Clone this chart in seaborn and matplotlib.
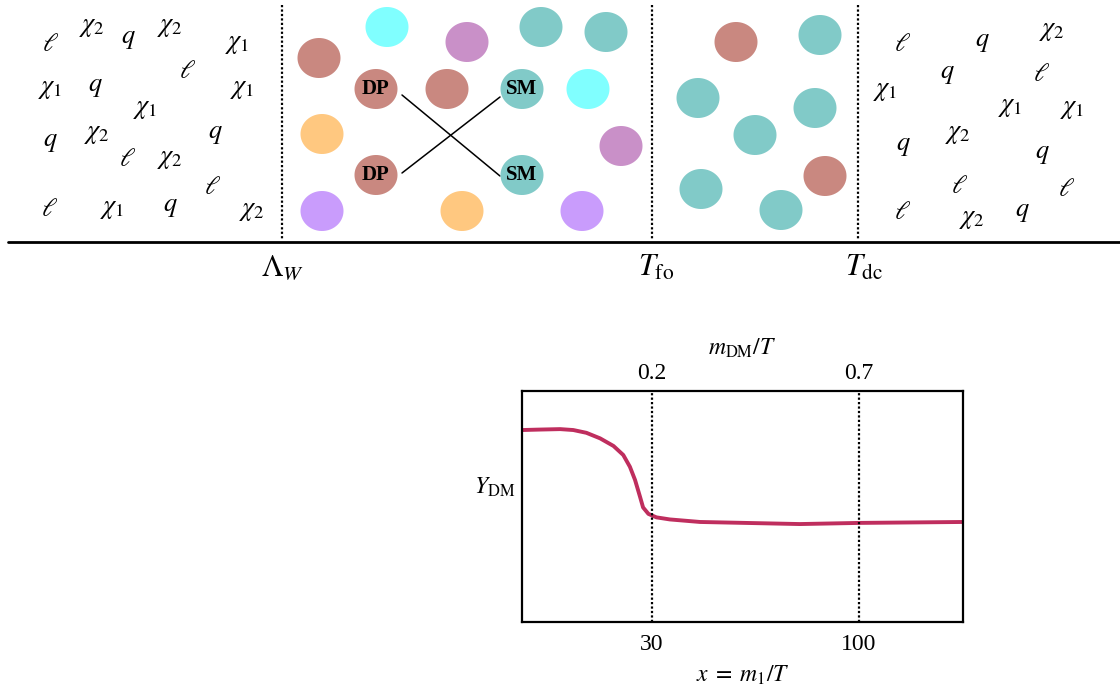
#!/usr/bin/env python3
# -*- coding: utf-8 -*-
"""Freeze-out schematic: particle bath cartoon on top, Y_DM curve below."""

import numpy as np
import pandas as pd
import matplotlib.pyplot as plt
import seaborn as sns

sns.set_theme(style='white')
plt.rcParams['font.family'] = ['Liberation Serif', 'DejaVu Serif']
plt.rcParams['mathtext.fontset'] = 'stix'
plt.rcParams['text.color'] = 'black'
plt.rcParams['axes.labelcolor'] = 'black'
plt.rcParams['xtick.color'] = 'black'

# ---- top cartoon (pixel coordinates of the picture) ----
particle_x = [319, 387, 467, 541, 606, 376, 447, 522, 588, 322, 621, 376, 522, 322, 462, 582,
              736, 820, 698, 815, 755, 701, 825, 781]
particle_y = [58, 27, 42, 27, 32, 89, 89, 89, 89, 134, 146, 175, 175, 211, 211, 211,
              42, 35, 98, 108, 135, 189, 176, 210]
particle_kind = ['dp', 'cyan', 'mauve', 'sm', 'sm', 'dp', 'dp', 'sm', 'cyan', 'orange', 'mauve',
                 'dp', 'sm', 'violet', 'orange', 'violet',
                 'dp', 'sm', 'sm', 'sm', 'sm', 'sm', 'dp', 'sm']
kind_colors = {'dp': '#C98880', 'sm': '#81CAC8', 'cyan': '#80FFFF',
               'mauve': '#C990C8', 'orange': '#FFC880', 'violet': '#C99CFC'}

# labelled particles taking part in the annihilation
label_x = [376, 376, 522, 522]
label_y = [89, 175, 89, 175]
label_text = ['DP', 'DP', 'SM', 'SM']

# the crossing lines DP <-> SM
cross_x = [[402, 500], [402, 500]]
cross_y = [[95, 176], [173, 97]]

# symbols in the thermal bath, left and right
sym_left_x = [51, 92, 128, 170, 237, 188, 50, 95, 242, 145, 50, 97, 215, 128, 170, 213, 50, 112, 170, 252]
sym_left_y = [45, 28, 40, 28, 45, 72, 90, 88, 90, 110, 143, 135, 135, 160, 160, 188, 210, 210, 208, 212]
sym_left = ['l', 'c2', 'q', 'c2', 'c1', 'l', 'c1', 'q', 'c1', 'c1', 'q', 'c2', 'q', 'l', 'c2', 'l',
            'l', 'c1', 'q', 'c2']
sym_right_x = [903, 982, 1052, 947, 1042, 885, 1010, 1072, 958, 903, 1042, 960, 1067, 903, 972, 1022]
sym_right_y = [45, 43, 32, 75, 75, 92, 108, 110, 135, 147, 155, 187, 190, 213, 220, 213]
sym_right = ['l', 'q', 'c2', 'q', 'l', 'c1', 'c1', 'c1', 'c2', 'q', 'q', 'l', 'l', 'l', 'c2', 'q']
sym_tex = {'l': r'$\ell$', 'q': r'$q$', 'c1': r'$\chi_1$', 'c2': r'$\chi_2$'}

# time line boundaries
boundary_x = [282, 652, 858]
boundary_label = [r'$\Lambda_W$', r'$T_{\rm fo}$', r'$T_{\rm dc}$']
boundary_label_x = [261, 638, 845]

# ---- lower plot: Y_DM vs x ----
curve_x = [14.1, 15.6, 17.6, 19.0, 20.5, 22.2, 24.0, 25.4, 26.4, 27.2, 28.0, 28.5, 29.4,
           30.8, 33.3, 39.7, 70.9, 100.6, 183]
curve_y = [0.831, 0.833, 0.835, 0.831, 0.819, 0.795, 0.762, 0.723, 0.672, 0.615, 0.542,
           0.496, 0.468, 0.453, 0.444, 0.433, 0.424, 0.429, 0.433]
bottom_ticks = [30, 100]
bottom_ticklabels = ['30', '100']
top_ticklabels = ['0.2', '0.7']

W, H = 1120, 686
fig = plt.figure(figsize=(W / 100, H / 100), dpi=100)

# background axes in pixel units
bg = fig.add_axes([0, 0, 1, 1])
bg.set_axis_off()

theta = np.linspace(0, 2 * np.pi, 60)
ellipse = np.column_stack([1.075 * np.cos(theta), np.sin(theta)])
df = pd.DataFrame({'x': particle_x, 'y': particle_y, 'kind': particle_kind})
sns.scatterplot(data=df, x='x', y='y', hue='kind', palette=kind_colors, marker=ellipse,
                s=960, linewidth=0, legend=False, ax=bg, zorder=2)

for xs, ys in zip(cross_x, cross_y):
    bg.plot(xs, ys, color='black', lw=1.1, zorder=1)
for x, y, t in zip(label_x, label_y, label_text):
    bg.text(x, y, t, ha='center', va='center', fontsize=15, fontweight='bold', zorder=3)

for xs, ys, syms in [(sym_left_x, sym_left_y, sym_left), (sym_right_x, sym_right_y, sym_right)]:
    for x, y, s in zip(xs, ys, syms):
        bg.text(x, y, sym_tex[s], ha='center', va='center', fontsize=19)

bg.plot([8, W], [242, 242], color='black', lw=2)
for x in boundary_x:
    bg.plot([x, x], [5, 240], color='black', lw=1.6, linestyle=(0, (1, 1)))
for x, t in zip(boundary_label_x, boundary_label):
    bg.text(x, 268, t, ha='left', va='center', fontsize=22)

bg.set_xlim(0, W)
bg.set_ylim(H, 0)

# lower plot
ax = fig.add_axes([522 / W, (H - 622) / H, 441 / W, 231 / H])
sns.lineplot(x=curve_x, y=curve_y, ax=ax, color='#BF2E5E', lw=2.8)
ax.set_xscale('log')
ax.set_xlim(14.1, 183)
ax.set_ylim(0, 1)
for t in bottom_ticks:
    ax.axvline(t, color='black', lw=1.6, linestyle=(0, (1, 1)))
ax.set_xticks(bottom_ticks)
ax.set_xticklabels(bottom_ticklabels, fontsize=17)
ax.xaxis.set_minor_locator(plt.NullLocator())
ax.set_yticks([])
ax.tick_params(axis='x', length=0, pad=9)
ax.set_xlabel(r'$x\;=\;m_1/T$', fontsize=17, labelpad=6)
ax.set_ylabel(r'$Y_{\rm DM}$', fontsize=17, rotation=0, ha='right', va='center')
ax.yaxis.set_label_coords(-0.015, 0.585)
for sp in ax.spines.values():
    sp.set_color('black')
    sp.set_linewidth(1.6)

top = ax.twiny()
top.set_xscale('log')
top.set_xlim(ax.get_xlim())
top.set_xticks(bottom_ticks)
top.set_xticklabels(top_ticklabels, fontsize=17)
top.xaxis.set_minor_locator(plt.NullLocator())
top.tick_params(axis='x', length=0, pad=5)
top.set_xlabel(r'$m_{\rm DM}/T$', fontsize=17, labelpad=6)
for sp in top.spines.values():
    sp.set_visible(False)

fig.savefig('out.png', dpi=100)
